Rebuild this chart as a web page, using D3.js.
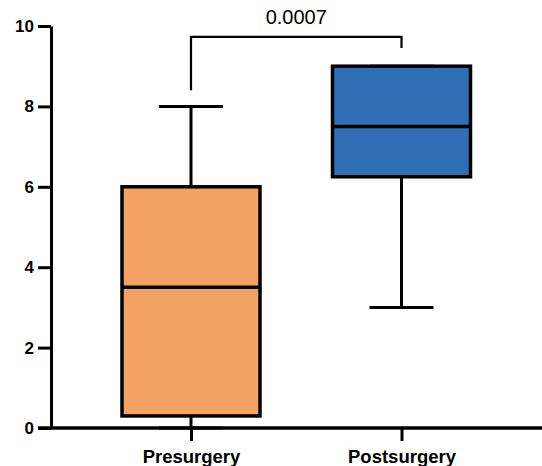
<!DOCTYPE html>
<html>
<head>
<meta charset="utf-8">
<script src="https://cdn.jsdelivr.net/npm/d3@7"></script>
<style>
  body { margin: 0; background: #fff; }
  text { font-family: "Liberation Sans", Arial, sans-serif; }
</style>
</head>
<body>
<script>
// data
var groups = ["Presurgery", "Postsurgery"];
var mins    = [0, 3];
var q1s     = [0.3, 6.25];
var medians = [3.5, 7.5];
var q3s     = [6, 9];
var maxs    = [8, 9];
var colors  = ["#F2A363", "#2E6FB5"];
var yTicks  = [0, 2, 4, 6, 8, 10];
var pValue  = "0.0007";

var width = 542, height = 466;

var svg = d3.select("body").append("svg")
    .attr("width", width)
    .attr("height", height);

// scales
var x = d3.scalePoint().domain(groups).range([191, 401.5]);
var y = d3.scaleLinear().domain([0, 10]).range([428, 26]);

var boxW = 138, capW = 64;

// y axis
var yAxis = svg.append("g")
    .attr("transform", "translate(51,0)")
    .call(d3.axisLeft(y).tickValues(yTicks).tickSize(13).tickSizeOuter(0).tickPadding(4));
yAxis.select(".domain").attr("stroke-width", 3);
yAxis.selectAll(".tick line").attr("stroke-width", 3);
yAxis.selectAll(".tick text")
    .style("font-size", "17px")
    .style("font-weight", "bold")
    .attr("fill", "#000");

// x axis
svg.append("line")
    .attr("x1", 38).attr("x2", width)
    .attr("y1", y(0)).attr("y2", y(0))
    .attr("stroke", "#000").attr("stroke-width", 3);
var xAxis = svg.append("g")
    .attr("transform", "translate(0," + y(0) + ")")
    .call(d3.axisBottom(x).tickSize(13).tickSizeOuter(0).tickPadding(9));
xAxis.select(".domain").remove();
xAxis.selectAll(".tick line").attr("stroke-width", 3);
xAxis.selectAll(".tick text")
    .style("font-size", "18.5px")
    .style("font-weight", "bold")
    .attr("fill", "#000");

// boxes
var rows = groups.map(function(g, i) {
    return {name: g, min: mins[i], q1: q1s[i], med: medians[i], q3: q3s[i], max: maxs[i], color: colors[i]};
});

var box = svg.selectAll(".box")
    .data(rows)
  .enter().append("g")
    .attr("class", "box");

// whiskers
box.append("line")
    .attr("x1", function(d) { return x(d.name); })
    .attr("x2", function(d) { return x(d.name); })
    .attr("y1", function(d) { return y(d.max); })
    .attr("y2", function(d) { return y(d.min); })
    .attr("stroke", "#000").attr("stroke-width", 3);
box.append("line")
    .attr("x1", function(d) { return x(d.name) - capW / 2; })
    .attr("x2", function(d) { return x(d.name) + capW / 2; })
    .attr("y1", function(d) { return y(d.max); })
    .attr("y2", function(d) { return y(d.max); })
    .attr("stroke", "#000").attr("stroke-width", 3);
box.append("line")
    .attr("x1", function(d) { return x(d.name) - capW / 2; })
    .attr("x2", function(d) { return x(d.name) + capW / 2; })
    .attr("y1", function(d) { return y(d.min); })
    .attr("y2", function(d) { return y(d.min); })
    .attr("stroke", "#000").attr("stroke-width", 3);

box.append("rect")
    .attr("x", function(d) { return x(d.name) - boxW / 2; })
    .attr("width", boxW)
    .attr("y", function(d) { return y(d.q3); })
    .attr("height", function(d) { return y(d.q1) - y(d.q3); })
    .attr("fill", function(d) { return d.color; })
    .attr("stroke", "#000").attr("stroke-width", 3.5);

box.append("line")
    .attr("x1", function(d) { return x(d.name) - boxW / 2; })
    .attr("x2", function(d) { return x(d.name) + boxW / 2; })
    .attr("y1", function(d) { return y(d.med); })
    .attr("y2", function(d) { return y(d.med); })
    .attr("stroke", "#000").attr("stroke-width", 3.5);

// redraw x axis line on top of the lower whisker
svg.append("line")
    .attr("x1", 38).attr("x2", width)
    .attr("y1", y(0)).attr("y2", y(0))
    .attr("stroke", "#000").attr("stroke-width", 3);

// significance bracket
var bx1 = x(groups[0]), bx2 = x(groups[1]);
svg.append("path")
    .attr("d", "M" + bx1 + "," + y(8.4) + "V" + y(9.73) + "H" + bx2 + "V" + y(9.45))
    .attr("fill", "none")
    .attr("stroke", "#000").attr("stroke-width", 2.2);

svg.append("text")
    .attr("x", (bx1 + bx2) / 2)
    .attr("y", 24)
    .attr("text-anchor", "middle")
    .style("font-size", "20px")
    .text(pValue);
</script>
</body>
</html>
